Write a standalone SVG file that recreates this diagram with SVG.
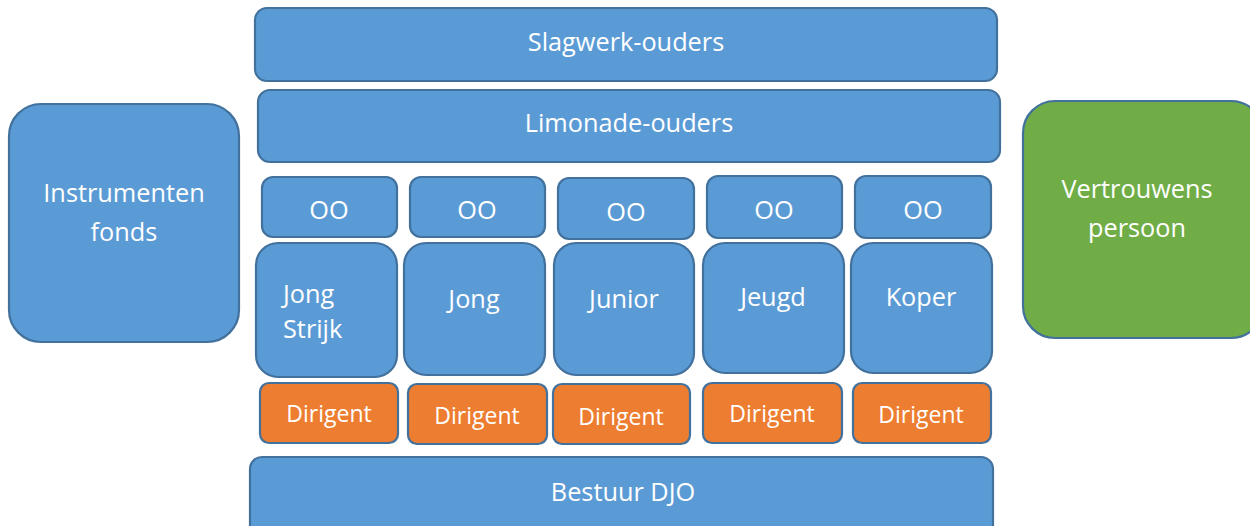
<svg xmlns="http://www.w3.org/2000/svg" width="1250" height="526" viewBox="0 0 1250 526">
<style>
.b{fill:#5b9bd5;stroke:#41719c;stroke-width:2.2}
.o{fill:#ed7d31;stroke:#41719c;stroke-width:2.2}
.g{fill:#70ad47;stroke:#41719c;stroke-width:2.2}
text{font-family:"Open Sans","Noto Sans",sans-serif;fill:#fff;font-size:25.3px;text-anchor:middle}
.d{font-size:23px}
</style>
<rect width="1250" height="526" fill="#fff"/>
<g id="connectors"></g>
<g id="slagwerk"><rect class="b" x="255" y="8" width="742" height="73" rx="12"/><text x="626" y="51">Slagwerk-ouders</text></g>
<g id="limonade"><rect class="b" x="258" y="90" width="742" height="72" rx="12"/><text x="629" y="132">Limonade-ouders</text></g>
<g id="instrumenten"><rect class="b" x="9" y="104" width="230" height="238" rx="32"/><text x="124" y="202">Instrumenten</text><text x="124" y="241">fonds</text></g>
<g id="vertrouwens"><rect class="g" x="1023" y="101" width="240" height="237" rx="32"/><text x="1137" y="198">Vertrouwens</text><text x="1137" y="237">persoon</text></g>

<g id="oo1"><rect class="b" x="262" y="177" width="135" height="60" rx="11"/><text x="329" y="219">OO</text></g>
<g id="oo2"><rect class="b" x="410" y="177" width="135" height="60" rx="11"/><text x="477" y="219">OO</text></g>
<g id="oo3"><rect class="b" x="558" y="178" width="136" height="61" rx="11"/><text x="626" y="221">OO</text></g>
<g id="oo4"><rect class="b" x="707" y="176" width="135" height="62" rx="11"/><text x="774" y="219">OO</text></g>
<g id="oo5"><rect class="b" x="855" y="176" width="136" height="62" rx="11"/><text x="923" y="219">OO</text></g>

<g id="jongstrijk"><rect class="b" x="256" y="243" width="141" height="134" rx="22"/><text x="283" y="303" style="text-anchor:start">Jong</text><text x="283" y="338" style="text-anchor:start">Strijk</text></g>
<g id="jong"><rect class="b" x="404" y="243" width="141" height="132" rx="22"/><text x="474" y="308">Jong</text></g>
<g id="junior"><rect class="b" x="554" y="243" width="140" height="132" rx="22"/><text x="624" y="308">Junior</text></g>
<g id="jeugd"><rect class="b" x="703" y="243" width="141" height="130" rx="22"/><text x="773" y="306">Jeugd</text></g>
<g id="koper"><rect class="b" x="851" y="243" width="141" height="130" rx="22"/><text x="921" y="306">Koper</text></g>

<g id="dirigent1"><rect class="o" x="260" y="383" width="138" height="60" rx="9"/><text class="d" x="329" y="422">Dirigent</text></g>
<g id="dirigent2"><rect class="o" x="408" y="384" width="139" height="60" rx="9"/><text class="d" x="477" y="424">Dirigent</text></g>
<g id="dirigent3"><rect class="o" x="553" y="384" width="137" height="60" rx="9"/><text class="d" x="621" y="425">Dirigent</text></g>
<g id="dirigent4"><rect class="o" x="703" y="383" width="139" height="60" rx="9"/><text class="d" x="772" y="422">Dirigent</text></g>
<g id="dirigent5"><rect class="o" x="853" y="383" width="138" height="60" rx="9"/><text class="d" x="921" y="423">Dirigent</text></g>

<g id="bestuur"><rect class="b" x="250" y="457" width="743" height="80" rx="12"/><text x="623" y="501">Bestuur DJO</text></g>
</svg>
